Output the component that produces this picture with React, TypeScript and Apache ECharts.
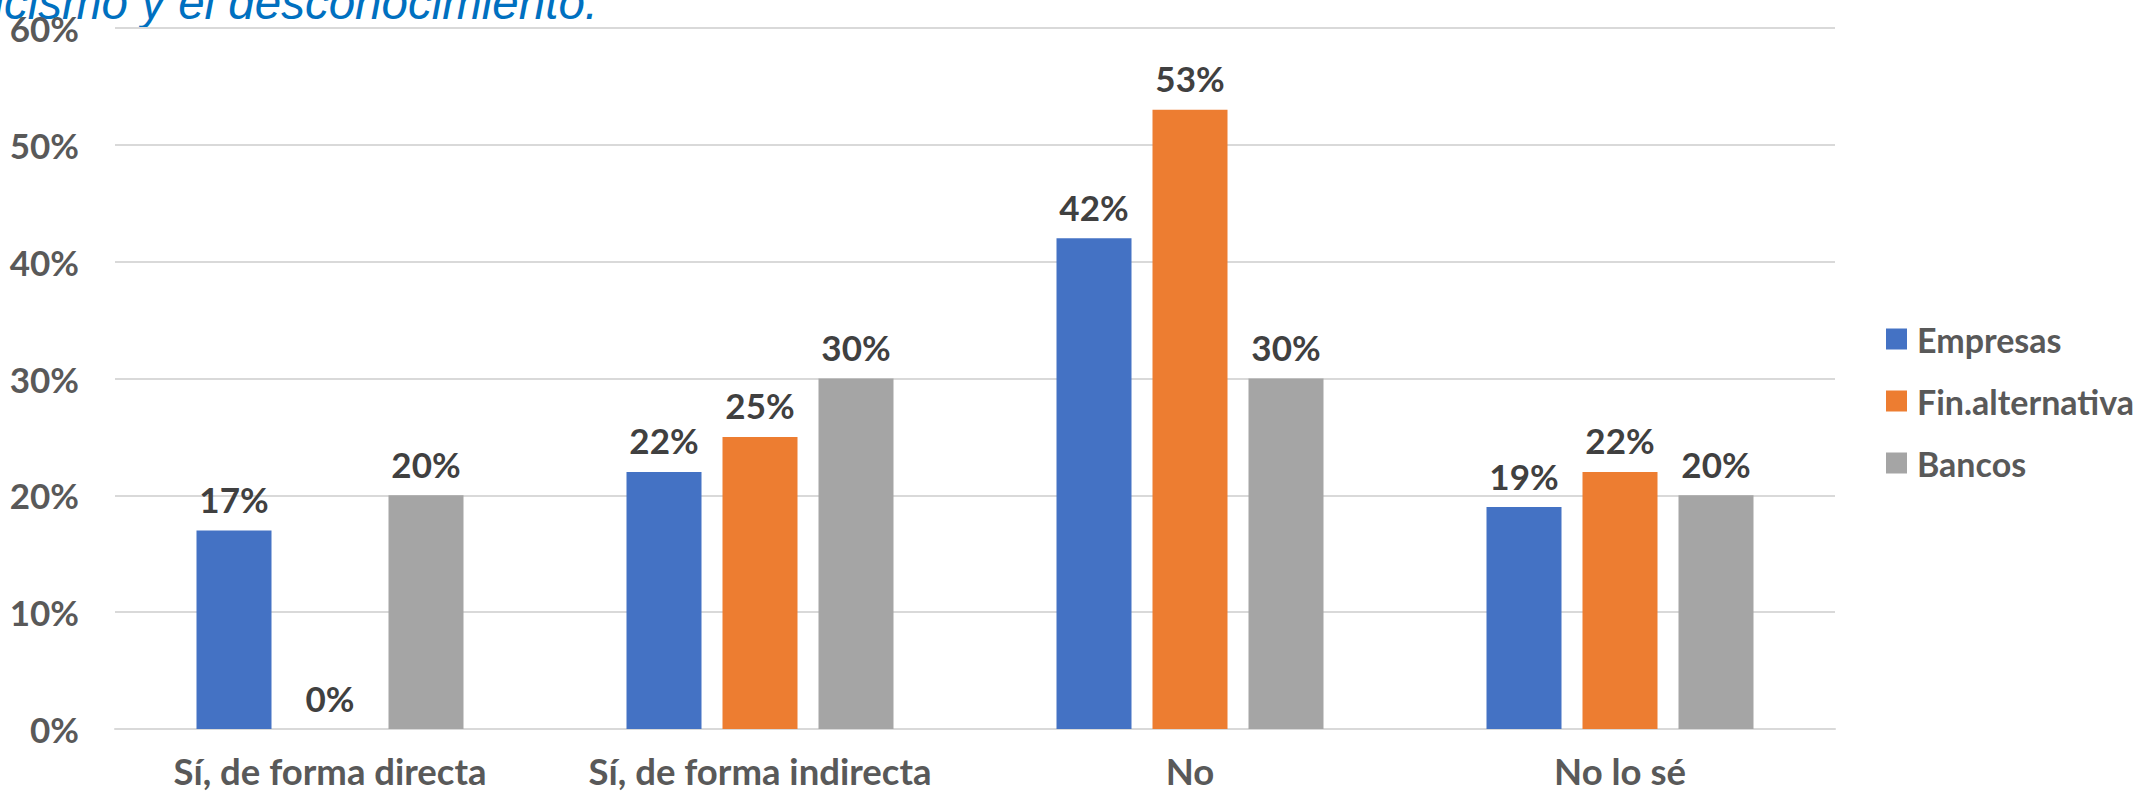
import React, { useEffect, useRef } from "react";
import * as echarts from "echarts";

const categories = ["Sí, de forma directa", "Sí, de forma indirecta", "No", "No lo sé"];
const empresas = [17, 22, 42, 19];
const finAlternativa = [0, 25, 53, 22];
const bancos = [20, 30, 30, 20];
const seriesNames = ["Empresas", "Fin.alternativa", "Bancos"];
const seriesColors = ["#4472C4", "#ED7D31", "#A5A5A5"];
const titleText = "escepticismo y el desconocimiento.";

const FONT = "Lato";

export default function App() {
  const ref = useRef<HTMLDivElement>(null);
  useEffect(() => {
    if (!ref.current) return;
    const chart = echarts.init(ref.current, undefined, { renderer: "svg" });
    const dataSets = [empresas, finAlternativa, bancos];
    chart.setOption({
      animation: false,
      backgroundColor: "#ffffff",
      grid: { left: 115, right: 303, top: 28, bottom: 62, containLabel: false },
      graphic: [
        {
          type: "text",
          x: 598,
          y: 2,
          style: {
            text: titleText,
            font: "italic 47.5px 'Liberation Sans'",
            fill: "#0070C0",
            textAlign: "right",
            textVerticalAlign: "middle",
          },
        },
      ],
      legend: {
        orient: "vertical",
        left: 1881,
        top: 317,
        itemWidth: 21,
        itemHeight: 21,
        itemGap: 28,
        icon: "rect",
        data: seriesNames,
        textStyle: {
          fontFamily: FONT,
          fontWeight: "bold",
          fontSize: 34,
          color: "#595959",
          lineHeight: 30,
          padding: [0, 0, 0, 5],
        },
      },
      xAxis: {
        type: "category",
        data: categories,
        axisLine: { lineStyle: { color: "#D9D9D9", width: 2 } },
        axisTick: { show: false },
        axisLabel: {
          interval: 0,
          fontFamily: FONT,
          fontWeight: "bold",
          fontSize: 36.5,
          color: "#595959",
          margin: 23,
        },
      },
      yAxis: {
        type: "value",
        min: 0,
        max: 60,
        interval: 10,
        axisLine: { show: false },
        axisTick: { show: false },
        splitLine: { lineStyle: { color: "#D9D9D9", width: 2 } },
        axisLabel: {
          formatter: "{value}%",
          fontFamily: FONT,
          fontWeight: "bold",
          fontSize: 35,
          color: "#595959",
          margin: 36,
        },
      },
      series: seriesNames.map((name, i) => ({
        name,
        type: "bar",
        data: dataSets[i],
        barWidth: 75,
        barGap: "28%",
        itemStyle: { color: seriesColors[i] },
        label: {
          show: true,
          position: "top",
          distance: 14,
          formatter: "{c}%",
          fontFamily: FONT,
          fontWeight: "bold",
          fontSize: 35,
          color: "#404040",
        },
      })),
    });
    return () => chart.dispose();
  }, []);
  return (
    <div
      ref={ref}
      style={{ position: "absolute", left: 0, top: 0, width: 2138, height: 791 }}
    />
  );
}
